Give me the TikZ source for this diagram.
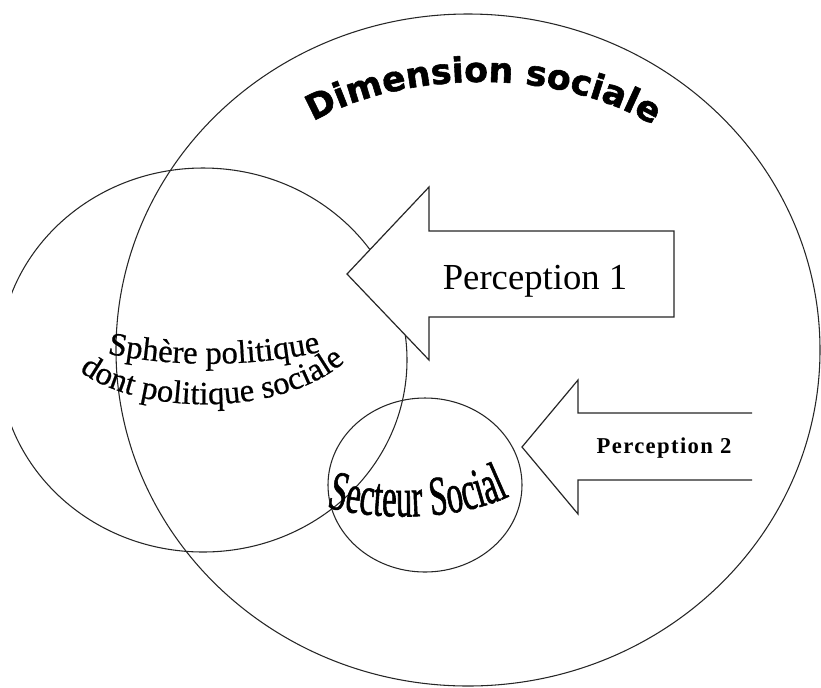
\documentclass[tikz,border=0pt]{standalone}
\usepackage{fontspec}
\setmainfont{Liberation Serif}
\newfontfamily\dimfamily[FakeBold=1.6]{DejaVu Sans}
\newfontfamily\ptwofamily[LetterSpace=6]{Liberation Serif}
\newfontfamily\sphfamily[FakeBold=0.6]{Liberation Serif}
\newfontfamily\condfamily[FakeStretch=0.58,FakeBold=1]{Liberation Serif}
\usetikzlibrary{decorations.text}
\newcommand\dimfont{\dimfamily\bfseries\fontsize{26}{29}\selectfont}
\newcommand\pone{\fontsize{27.5}{30}\selectfont}
\newcommand\ptwofont{\ptwofamily\bfseries\fontsize{17}{19}\selectfont}
\newcommand\sphfont{\sphfamily\fontsize{24.5}{27}\selectfont}
\newcommand\secfont{\condfamily\fontsize{42}{45}\selectfont}
\begin{document}
\begin{tikzpicture}[x=0.75pt,y=-0.75pt,
  outline/.style={draw=black!85, line width=0.8pt},
  blockarrow/.style={draw=black!85, line width=0.9pt, fill=white},
  wordart/.style={decorate, decoration={text along path, text align=center}}]
\useasboundingbox (0,0) rectangle (821,687);
% circles
\begin{scope}
  \clip (12,0) rectangle (821,687);
  \draw[outline] (203,360) ellipse [x radius=204, y radius=192];
\end{scope}
\draw[outline] (468,350) ellipse [x radius=352, y radius=336];
\draw[outline] (425,485) ellipse [x radius=97, y radius=87];
% block arrows
\draw[blockarrow] (674,231) -- (429,231) -- (429,187) -- (347,274) -- (429,360) -- (429,317) -- (674,317) -- cycle;
\fill[white] (752,413) -- (578,413) -- (578,380) -- (522,447) -- (578,514) -- (578,480) -- (752,480) -- cycle;
\draw[blockarrow] (752,413) -- (578,413) -- (578,380) -- (522,447) -- (578,514) -- (578,480) -- (752,480);
% texts
\node[anchor=base, font=\pone, inner sep=0pt] (p1) at (535,289) {Perception 1};
\node[anchor=base, font=\ptwofont, inner sep=0pt] (p2) at (664,453) {Perception 2};
\path[wordart, decoration={text={|\dimfont|Dimension sociale}}]
  (294,134) .. controls (380,70) and (565,58) .. (672,138);
\path[wordart, decoration={text={|\sphfont|Sphère politique}}]
  (100,352) .. controls (170,368) and (255,368) .. (328,350);
\path[wordart, decoration={text={|\sphfont|dont politique sociale}}]
  (72,365) .. controls (130,418) and (290,420) .. (352,355);
\path[wordart, decoration={text={|\secfont|Secteur Social}}]
  (326,507) .. controls (380,522) and (460,520) .. (510,496);
\end{tikzpicture}
\end{document}
